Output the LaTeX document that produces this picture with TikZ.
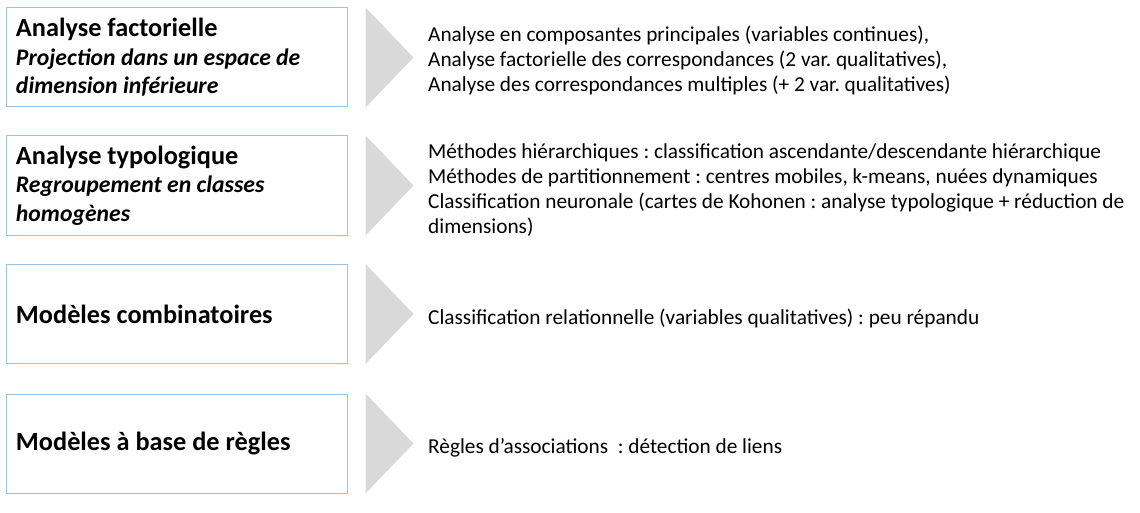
\documentclass[tikz,border=0pt]{standalone}
\usepackage{fontspec}
\setmainfont{Carlito}
\usepackage{tikz}
\definecolor{boxblue}{RGB}{157,195,230}
\definecolor{trigray}{RGB}{217,217,217}
\frenchspacing

\newcommand{\subtitle}[1]{{\fontsize{23.7}{28.5}\selectfont\bfseries\itshape #1}}

\tikzset{
  catbox/.style={draw=boxblue, line width=1pt, minimum width=341pt, minimum height=99pt,
    text width=321pt, align=flush left, inner xsep=10pt, font=\fontsize{26.3}{28.5}\selectfont},
  desc/.style={anchor=west, align=left, inner sep=0pt, font=\fontsize{21.3}{24.9}\selectfont},
}

\begin{document}
\begin{tikzpicture}[x=1pt, y=-1pt]
        \useasboundingbox (0,0) rectangle (1140,513);

        % Draw category boxes
        \node[catbox] (b1) at (176.5, 57.5) {\textbf{Analyse factorielle}\\\subtitle{Projection dans un espace de}\\\subtitle{dimension inférieure}};
        \node[catbox] (b2) at (176.5, 185.5) {\textbf{Analyse typologique}\\\subtitle{Regroupement en classes}\\\subtitle{homogènes}};
        \node[catbox] (b3) at (176.5, 314) {\textbf{Modèles combinatoires}};
        \node[catbox] (b4) at (176.5, 443.5) {\textbf{Modèles à base de règles}};

        % Draw arrows
        \foreach \b in {b1, b2, b3, b4}
          \fill[trigray] ([xshift=18pt]\b.north east) -- ([xshift=66pt]\b.east) -- ([xshift=18pt]\b.south east) -- cycle;

        % Draw descriptions
        \node[desc] (d1) at (428, 60.5) {Analyse en composantes principales (variables continues),\\Analyse factorielle des correspondances (2 var. qualitatives),\\Analyse des correspondances multiples (+ 2 var. qualitatives)};
        \node[desc] (d2) at (428, 190) {Méthodes hiérarchiques : classification ascendante/descendante hiérarchique\\Méthodes de partitionnement : centres mobiles, k-means, nuées dynamiques\\Classification neuronale (cartes de Kohonen : analyse typologique + réduction de\\dimensions)};
        \node[desc] (d3) at (428, 318) {Classification relationnelle (variables qualitatives) : peu répandu};
        \node[desc] (d4) at (428, 448) {Règles d’associations \ : détection de liens};
\end{tikzpicture}
\end{document}
